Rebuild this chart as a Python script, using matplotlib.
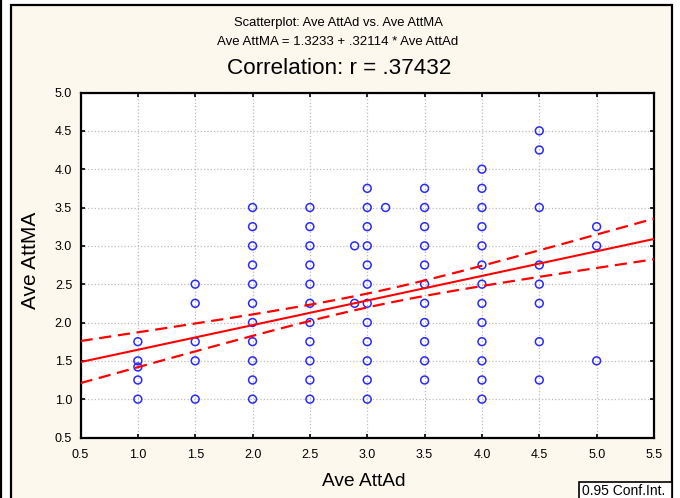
import numpy as np
import matplotlib.pyplot as plt
from matplotlib.patches import Rectangle
from matplotlib.lines import Line2D

plt.rcParams['font.family'] = ['Liberation Sans', 'DejaVu Sans']

# scatter values, read column by column (Ave AttAd -> Ave AttMA)
att_ad = ([1.0] * 5 + [1.5] * 5 + [2.0] * 11 + [2.5] * 11 + [3.0] * 12
          + [2.89, 2.89, 3.16] + [3.5] * 11 + [4.0] * 13 + [4.5] * 8 + [5.0] * 3)
att_ma = ([1.75, 1.5, 1.42, 1.25, 1.0]
          + [2.5, 2.25, 1.75, 1.5, 1.0]
          + [3.5, 3.25, 3.0, 2.75, 2.5, 2.25, 2.0, 1.75, 1.5, 1.25, 1.0]
          + [3.5, 3.25, 3.0, 2.75, 2.5, 2.25, 2.0, 1.75, 1.5, 1.25, 1.0]
          + [3.75, 3.5, 3.25, 3.0, 2.75, 2.5, 2.25, 2.0, 1.75, 1.5, 1.25, 1.0]
          + [3.0, 2.25, 3.5]
          + [3.75, 3.5, 3.25, 3.0, 2.75, 2.5, 2.25, 2.0, 1.75, 1.5, 1.25]
          + [4.0, 3.75, 3.5, 3.25, 3.0, 2.75, 2.5, 2.25, 2.0, 1.75, 1.5, 1.25, 1.0]
          + [4.5, 4.25, 3.5, 2.75, 2.5, 2.25, 1.75, 1.25]
          + [3.25, 3.0, 1.5])

# regression stats
intercept = 1.3233
slope = 0.32114
r_value = 0.37432
x_mean = 3.05
ci_at_mean = 0.09     # half width of 0.95 band at x_mean
ci_slope = 0.1018     # growth of the band away from x_mean

fig = plt.figure(figsize=(6.8, 4.98), dpi=100)
fig.patch.set_facecolor('white')

# cream panel with frame
W, H = 680, 498
fig.patches.append(Rectangle((10.5 / W, -0.01), 661 / W, 1 - 4.5 / H + 0.01,
                             transform=fig.transFigure, facecolor='#fdf8ee',
                             edgecolor='black', lw=1.6, zorder=-5))
fig.lines.append(Line2D([1 / W, 1 / W], [0, 1], transform=fig.transFigure,
                        color='black', lw=1.6, zorder=-5))

ax = fig.add_axes([80.5 / W, 1 - 437.5 / H, 573.5 / W, 345 / H])
ax.set_facecolor('white')

xs = np.linspace(0.5, 5.5, 200)
fit = intercept + slope * xs
half = np.sqrt(ci_at_mean**2 + (ci_slope * (xs - x_mean))**2)

ax.scatter(att_ad, att_ma, s=32, facecolors='none', edgecolors='#2a2aff',
           linewidths=1.1, zorder=3)
ax.plot(xs, fit, color='red', lw=1.5, zorder=4)
ax.plot(xs, fit + half, color='red', lw=1.6, ls=(0, (5.5, 3)), zorder=4)
ax.plot(xs, fit - half, color='red', lw=1.6, ls=(0, (5.5, 3)), zorder=4)

ax.set_xlim(0.5, 5.5)
ax.set_ylim(0.5, 5.0)
ax.set_xticks(np.arange(0.5, 5.51, 0.5))
ax.set_yticks(np.arange(0.5, 5.01, 0.5))
ax.xaxis.set_major_formatter(plt.FormatStrFormatter('%.1f'))
ax.yaxis.set_major_formatter(plt.FormatStrFormatter('%.1f'))
ax.tick_params(direction='in', length=3, width=1.2, labelsize=9,
               top=True, right=True)
ax.tick_params(axis='x', pad=8)
ax.tick_params(axis='y', pad=6)
ax.grid(True, color='#bcbcbc', ls=':', lw=0.9)
for sp in ax.spines.values():
    sp.set_linewidth(1.6)

fig.text(0.497, 1 - 22.7 / H, 'Scatterplot: Ave AttAd vs. Ave AttMA',
         ha='center', va='center', fontsize=9.4)
fig.text(0.497, 1 - 41.7 / H, 'Ave AttMA = 1.3233 + .32114 * Ave AttAd',
         ha='center', va='center', fontsize=9.5)
fig.text(0.499, 1 - 68 / H, 'Correlation: r = %s' % ('%.5f' % r_value)[1:],
         ha='center', va='center', fontsize=16.2)

fig.text(364 / W, 1 - 481 / H, 'Ave AttAd', ha='center', va='center',
         fontsize=13.8)
fig.text(31 / W, 1 - 260 / H, 'Ave AttMA', ha='center', va='center',
         fontsize=15, rotation=90)

fig.patches.append(Rectangle((579 / W, -0.01), 92.5 / W, 16.5 / H + 0.01,
                             transform=fig.transFigure, facecolor='white',
                             edgecolor='black', lw=1.2, zorder=5))
fig.text(582.5 / W, 1 - 490.5 / H, '0.95 Conf.Int.', ha='left', va='center',
         fontsize=10, zorder=6)

fig.savefig('out.png', dpi=100)
